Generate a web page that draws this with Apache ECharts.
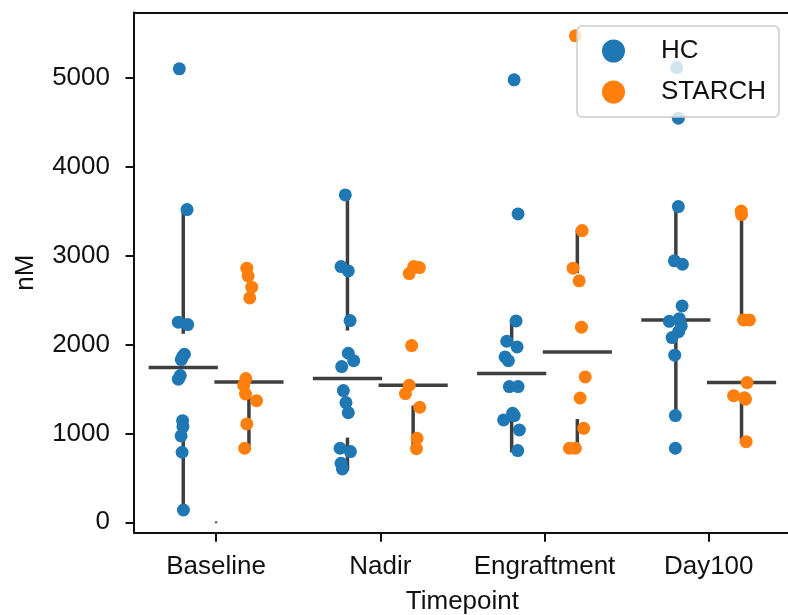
<!DOCTYPE html>
<html>
<head>
<meta charset="utf-8">
<script src="https://cdn.jsdelivr.net/npm/echarts@6/dist/echarts.min.js"></script>
<style>
  html, body { margin: 0; padding: 0; background: #fff; }
  #chart { width: 788px; height: 615px; }
</style>
</head>
<body>
<div id="chart"></div>
<script>
  // categories and tick labels
  const categories = ['Baseline', 'Nadir', 'Engraftment', 'Day100'];
  const yTicks = [0, 1000, 2000, 3000, 4000, 5000];

  // nM values, one list per timepoint
  const hcValues = [
    [5100, 3517, 2250, 2223, 1890, 1860, 1830, 1650, 1610, 1143, 1076, 971, 788, 138],
    [3682, 2876, 2827, 2268, 1901, 1818, 1751, 1481, 1346, 1233, 833, 795, 664, 600],
    [4976, 3468, 2265, 2036, 1972, 1860, 1818, 1526, 1526, 1226, 1200, 1151, 1038, 806],
    [5114, 4545, 3551, 2940, 2902, 2433, 2290, 2260, 2208, 2144, 2077, 1879, 1200, 833]
  ];
  const starchValues = [
    [2858, 2771, 2644, 2523, 1616, 1541, 1443, 1368, 1106, 833],
    [2876, 2865, 2797, 1987, 1541, 1447, 1294, 945, 828],
    [5471, 3281, 2858, 2715, 2194, 1635, 1398, 1057, 833, 833],
    [3500, 3460, 2276, 2276, 1571, 1424, 1400, 1384, 907]
  ];

  // strip jitter (fraction of a category)
  const hcJitter = [
    [-0.024, 0.023, -0.030, 0.027, 0.007, -0.005, -0.012, -0.018, -0.030, -0.004, -0.002, -0.013, -0.007, 0.001],
    [-0.013, -0.039, 0.005, 0.016, 0.005, 0.038, -0.035, -0.025, -0.009, 0.005, -0.045, 0.018, -0.039, -0.031],
    [0.015, 0.039, 0.027, -0.030, 0.033, -0.040, -0.020, -0.014, 0.039, 0.006, 0.016, -0.049, 0.047, 0.037],
    [0.005, 0.015, 0.015, -0.009, 0.040, 0.038, 0.021, -0.040, 0.033, 0.017, -0.023, -0.007, -0.003, -0.003]
  ];
  const starchJitter = [
    [-0.013, -0.005, 0.017, 0.005, -0.019, -0.032, -0.021, 0.046, -0.013, -0.026],
    [0.004, 0.038, -0.024, -0.009, -0.024, -0.047, 0.040, 0.024, 0.020],
    [-0.012, 0.029, -0.026, 0.011, 0.025, 0.048, 0.017, 0.039, -0.048, -0.012],
    [-0.002, 0.000, 0.012, 0.048, 0.034, -0.048, 0.018, 0.024, 0.028]
  ];

  const hueOffset = 0.2;
  const textColor = '#111';
  const font = 'Liberation Sans, Arial, Helvetica, sans-serif';

  function quantile(sorted, p) {
    let pos = (sorted.length - 1) * p;
    let lo = Math.floor(pos);
    let hi = Math.ceil(pos);
    return sorted[lo] + (sorted[hi] - sorted[lo]) * (pos - lo);
  }

  // box stats like matplotlib: quartiles + whiskers at 1.5 IQR
  function boxStats(values, x) {
    let s = values.slice().sort((a, b) => a - b);
    let q1 = quantile(s, 0.25), med = quantile(s, 0.5), q3 = quantile(s, 0.75);
    let iqr = q3 - q1;
    let hi = Math.max(...s.filter(v => v <= q3 + 1.5 * iqr));
    let lo = Math.min(...s.filter(v => v >= q1 - 1.5 * iqr));
    return [x, q1, q3, lo, hi, med];
  }

  function stripData(groups, jitter, offset) {
    let out = [];
    groups.forEach((vals, i) => {
      vals.forEach((v, j) => {
        out.push([i + offset + jitter[i][j], v]);
      });
    });
    return out;
  }

  let boxData = [];
  categories.forEach((c, i) => {
    boxData.push(boxStats(hcValues[i], i - hueOffset));
    boxData.push(boxStats(starchValues[i], i + hueOffset));
  });

  let chart = echarts.init(document.getElementById('chart'), null, {renderer: 'canvas'});

  let option = {
    animation: false,
    color: ['#1f77b4', '#ff7f0e'],
    grid: {
      left: 134,
      top: 12.5,
      width: 656.8,
      height: 520.2,
      containLabel: false,
      outerBoundsMode: 'none'
    },
    legend: {
      data: ['HC', 'STARCH'],
      orient: 'vertical',
      left: 577,
      top: 26,
      icon: 'circle',
      itemWidth: 23,
      itemHeight: 23,
      itemGap: 15,
      padding: [12, 13, 12, 25],
      backgroundColor: 'rgba(255,255,255,0.8)',
      borderColor: '#cccccc',
      borderWidth: 1.5,
      borderRadius: 5,
      selectedMode: false,
      textStyle: {
        color: textColor,
        fontFamily: font,
        fontSize: 26,
        padding: [0, 0, 0, 31]
      }
    },
    xAxis: [{
      type: 'value',
      min: -0.5,
      max: 3.5,
      position: 'bottom',
      name: 'Timepoint',
      nameLocation: 'middle',
      nameGap: 56,
      nameTextStyle: {color: textColor, fontFamily: font, fontSize: 26},
      axisLine: {show: true, onZero: false, lineStyle: {color: textColor, width: 2}},
      axisTick: {show: true, length: 9, lineStyle: {width: 2, color: textColor}, customValues: [0, 1, 2, 3]},
      axisLabel: {
        color: textColor,
        fontFamily: font,
        fontSize: 26,
        margin: 21,
        customValues: [0, 1, 2, 3],
        formatter: function (v) { return categories[Math.round(v)]; }
      },
      splitLine: {show: false}
    }, {
      type: 'value',
      min: -0.5,
      max: 3.5,
      position: 'top',
      axisLine: {show: true, onZero: false, lineStyle: {color: textColor, width: 2}},
      axisTick: {show: false},
      axisLabel: {show: false},
      splitLine: {show: false}
    }],
    yAxis: {
      type: 'value',
      min: -117,
      max: 5733,
      name: 'nM',
      nameLocation: 'middle',
      nameGap: 95,
      nameTextStyle: {color: textColor, fontFamily: font, fontSize: 26},
      axisLine: {show: true, onZero: false, lineStyle: {color: textColor, width: 2}},
      axisTick: {show: true, length: 8.5, lineStyle: {width: 2, color: textColor}, customValues: yTicks},
      axisLabel: {
        color: textColor,
        fontFamily: font,
        fontSize: 26,
        margin: 24,
        customValues: yTicks,
        formatter: function (v) { return String(v); }
      },
      splitLine: {show: false}
    },
    series: [
      {
        name: 'box',
        type: 'custom',
        z: 1,
        silent: true,
        encode: {x: 0, y: [1, 2, 3, 4, 5]},
        data: boxData,
        renderItem: function (params, api) {
          let x = api.value(0);
          let style = {stroke: '#3f3f3f', lineWidth: 3.5, lineCap: 'square'};
          let seg = function (a, b) {
            return {type: 'line', shape: {x1: a[0], y1: a[1], x2: b[0], y2: b[1]}, style: style};
          };
          return {
            type: 'group',
            children: [
              seg(api.coord([x, api.value(2)]), api.coord([x, api.value(4)])),
              seg(api.coord([x, api.value(3)]), api.coord([x, api.value(1)])),
              seg(api.coord([x - 0.2, api.value(5)]), api.coord([x + 0.2, api.value(5)]))
            ]
          };
        }
      },
      {
        name: 'HC',
        type: 'scatter',
        z: 3,
        symbolSize: 13,
        itemStyle: {color: '#1f77b4', opacity: 1},
        data: stripData(hcValues, hcJitter, -hueOffset)
      },
      {
        name: 'STARCH',
        type: 'scatter',
        z: 3,
        symbolSize: 13,
        itemStyle: {color: '#ff7f0e', opacity: 1},
        data: stripData(starchValues, starchJitter, hueOffset)
      },
      {
        name: 'dot',
        type: 'scatter',
        z: 2,
        symbolSize: 2.5,
        itemStyle: {color: '#3f3f3f'},
        data: [[0, 0]]
      }
    ]
  };

  chart.setOption(option);
</script>
</body>
</html>
